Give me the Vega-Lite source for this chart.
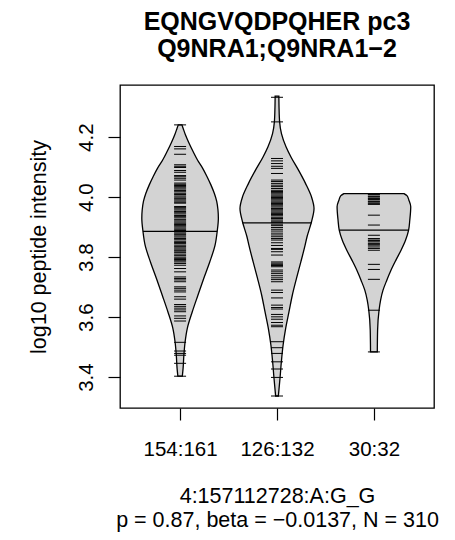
{
  "$schema": "https://vega.github.io/schema/vega-lite/v6.json",
  "width": 314,
  "height": 323,
  "autosize": {"type": "none"},
  "padding": {"left": 120, "top": 85, "right": 21, "bottom": 132},
  "background": "white",
  "title": {
    "text": ["EQNGVQDPQHER pc3\u00a0\u00a0", "\u00a0\u00a0Q9NRA1;Q9NRA1\u22122"],
    "font": "Liberation Sans",
    "fontSize": 25,
    "fontWeight": "bold",
    "color": "black",
    "lineHeight": 27,
    "anchor": "middle",
    "frame": "group",
    "baseline": "bottom",
    "offset": -2
  },
  "datasets": {
    "outline": [
      {"g": "154:161", "v": 4.241, "lo": 0.981, "hi": 1.019},
      {"g": "154:161", "v": 4.230, "lo": 0.969, "hi": 1.031},
      {"g": "154:161", "v": 4.208, "lo": 0.945, "hi": 1.055},
      {"g": "154:161", "v": 4.183, "lo": 0.912, "hi": 1.088},
      {"g": "154:161", "v": 4.152, "lo": 0.866, "hi": 1.134},
      {"g": "154:161", "v": 4.123, "lo": 0.819, "hi": 1.181},
      {"g": "154:161", "v": 4.097, "lo": 0.768, "hi": 1.232},
      {"g": "154:161", "v": 4.070, "lo": 0.724, "hi": 1.276},
      {"g": "154:161", "v": 4.041, "lo": 0.682, "hi": 1.318},
      {"g": "154:161", "v": 4.013, "lo": 0.647, "hi": 1.353},
      {"g": "154:161", "v": 3.986, "lo": 0.622, "hi": 1.378},
      {"g": "154:161", "v": 3.957, "lo": 0.609, "hi": 1.391},
      {"g": "154:161", "v": 3.930, "lo": 0.605, "hi": 1.395},
      {"g": "154:161", "v": 3.886, "lo": 0.617, "hi": 1.383},
      {"g": "154:161", "v": 3.840, "lo": 0.639, "hi": 1.361},
      {"g": "154:161", "v": 3.784, "lo": 0.694, "hi": 1.306},
      {"g": "154:161", "v": 3.729, "lo": 0.756, "hi": 1.244},
      {"g": "154:161", "v": 3.673, "lo": 0.816, "hi": 1.184},
      {"g": "154:161", "v": 3.618, "lo": 0.874, "hi": 1.126},
      {"g": "154:161", "v": 3.562, "lo": 0.926, "hi": 1.074},
      {"g": "154:161", "v": 3.518, "lo": 0.948, "hi": 1.052},
      {"g": "154:161", "v": 3.473, "lo": 0.961, "hi": 1.039},
      {"g": "154:161", "v": 3.429, "lo": 0.969, "hi": 1.031},
      {"g": "154:161", "v": 3.403, "lo": 0.977, "hi": 1.023},
      {"g": "126:132", "v": 4.337, "lo": 1.981, "hi": 2.019},
      {"g": "126:132", "v": 4.300, "lo": 1.979, "hi": 2.021},
      {"g": "126:132", "v": 4.251, "lo": 1.973, "hi": 2.027},
      {"g": "126:132", "v": 4.212, "lo": 1.954, "hi": 2.046},
      {"g": "126:132", "v": 4.168, "lo": 1.907, "hi": 2.093},
      {"g": "126:132", "v": 4.134, "lo": 1.856, "hi": 2.144},
      {"g": "126:132", "v": 4.090, "lo": 1.778, "hi": 2.222},
      {"g": "126:132", "v": 4.046, "lo": 1.706, "hi": 2.294},
      {"g": "126:132", "v": 4.001, "lo": 1.644, "hi": 2.356},
      {"g": "126:132", "v": 3.962, "lo": 1.618, "hi": 2.382},
      {"g": "126:132", "v": 3.918, "lo": 1.644, "hi": 2.356},
      {"g": "126:132", "v": 3.868, "lo": 1.690, "hi": 2.310},
      {"g": "126:132", "v": 3.840, "lo": 1.710, "hi": 2.290},
      {"g": "126:132", "v": 3.784, "lo": 1.754, "hi": 2.246},
      {"g": "126:132", "v": 3.729, "lo": 1.799, "hi": 2.201},
      {"g": "126:132", "v": 3.673, "lo": 1.842, "hi": 2.158},
      {"g": "126:132", "v": 3.618, "lo": 1.876, "hi": 2.124},
      {"g": "126:132", "v": 3.562, "lo": 1.911, "hi": 2.089},
      {"g": "126:132", "v": 3.507, "lo": 1.937, "hi": 2.063},
      {"g": "126:132", "v": 3.451, "lo": 1.955, "hi": 2.045},
      {"g": "126:132", "v": 3.396, "lo": 1.969, "hi": 2.031},
      {"g": "126:132", "v": 3.337, "lo": 1.986, "hi": 2.014},
      {"g": "30:32", "v": 4.012, "lo": 2.690, "hi": 3.310},
      {"g": "30:32", "v": 4.005, "lo": 2.659, "hi": 3.341},
      {"g": "30:32", "v": 3.990, "lo": 2.639, "hi": 3.361},
      {"g": "30:32", "v": 3.968, "lo": 2.620, "hi": 3.380},
      {"g": "30:32", "v": 3.923, "lo": 2.630, "hi": 3.370},
      {"g": "30:32", "v": 3.890, "lo": 2.642, "hi": 3.358},
      {"g": "30:32", "v": 3.857, "lo": 2.673, "hi": 3.327},
      {"g": "30:32", "v": 3.823, "lo": 2.720, "hi": 3.280},
      {"g": "30:32", "v": 3.790, "lo": 2.773, "hi": 3.227},
      {"g": "30:32", "v": 3.757, "lo": 2.823, "hi": 3.177},
      {"g": "30:32", "v": 3.723, "lo": 2.867, "hi": 3.133},
      {"g": "30:32", "v": 3.690, "lo": 2.906, "hi": 3.094},
      {"g": "30:32", "v": 3.657, "lo": 2.931, "hi": 3.069},
      {"g": "30:32", "v": 3.623, "lo": 2.947, "hi": 3.053},
      {"g": "30:32", "v": 3.557, "lo": 2.962, "hi": 3.038},
      {"g": "30:32", "v": 3.484, "lo": 2.965, "hi": 3.035}
    ],
    "means": [
      {"g": "154:161", "v": 3.886, "lo": 0.617, "hi": 1.383},
      {"g": "126:132", "v": 3.914, "lo": 1.642, "hi": 2.358},
      {"g": "30:32", "v": 3.890, "lo": 2.642, "hi": 3.358}
    ],
    "points": [
      {"p": 1, "v": 4.241}, {"p": 1, "v": 4.169}, {"p": 1, "v": 4.161}, {"p": 1, "v": 4.143},
      {"p": 1, "v": 4.108}, {"p": 1, "v": 4.103}, {"p": 1, "v": 4.099}, {"p": 1, "v": 4.089},
      {"p": 1, "v": 4.083}, {"p": 1, "v": 4.072}, {"p": 1, "v": 4.068}, {"p": 1, "v": 4.063},
      {"p": 1, "v": 4.057}, {"p": 1, "v": 4.047}, {"p": 1, "v": 4.043}, {"p": 1, "v": 4.039},
      {"p": 1, "v": 4.035}, {"p": 1, "v": 4.031}, {"p": 1, "v": 4.027}, {"p": 1, "v": 4.022},
      {"p": 1, "v": 4.018}, {"p": 1, "v": 4.013}, {"p": 1, "v": 4.009}, {"p": 1, "v": 4.004},
      {"p": 1, "v": 4.000}, {"p": 1, "v": 3.995}, {"p": 1, "v": 3.991}, {"p": 1, "v": 3.987},
      {"p": 1, "v": 3.983}, {"p": 1, "v": 3.980}, {"p": 1, "v": 3.969}, {"p": 1, "v": 3.965},
      {"p": 1, "v": 3.961}, {"p": 1, "v": 3.957}, {"p": 1, "v": 3.952}, {"p": 1, "v": 3.948},
      {"p": 1, "v": 3.944}, {"p": 1, "v": 3.939}, {"p": 1, "v": 3.935}, {"p": 1, "v": 3.931},
      {"p": 1, "v": 3.926}, {"p": 1, "v": 3.921}, {"p": 1, "v": 3.917}, {"p": 1, "v": 3.913},
      {"p": 1, "v": 3.909}, {"p": 1, "v": 3.905}, {"p": 1, "v": 3.901}, {"p": 1, "v": 3.897},
      {"p": 1, "v": 3.893}, {"p": 1, "v": 3.889}, {"p": 1, "v": 3.884}, {"p": 1, "v": 3.880},
      {"p": 1, "v": 3.876}, {"p": 1, "v": 3.871}, {"p": 1, "v": 3.867}, {"p": 1, "v": 3.862},
      {"p": 1, "v": 3.858}, {"p": 1, "v": 3.853}, {"p": 1, "v": 3.849}, {"p": 1, "v": 3.845},
      {"p": 1, "v": 3.840}, {"p": 1, "v": 3.836}, {"p": 1, "v": 3.831}, {"p": 1, "v": 3.827},
      {"p": 1, "v": 3.823}, {"p": 1, "v": 3.820}, {"p": 1, "v": 3.815}, {"p": 1, "v": 3.810},
      {"p": 1, "v": 3.805}, {"p": 1, "v": 3.800}, {"p": 1, "v": 3.796}, {"p": 1, "v": 3.792},
      {"p": 1, "v": 3.788}, {"p": 1, "v": 3.784}, {"p": 1, "v": 3.779}, {"p": 1, "v": 3.773},
      {"p": 1, "v": 3.762}, {"p": 1, "v": 3.751}, {"p": 1, "v": 3.734}, {"p": 1, "v": 3.729},
      {"p": 1, "v": 3.724}, {"p": 1, "v": 3.718}, {"p": 1, "v": 3.701}, {"p": 1, "v": 3.696},
      {"p": 1, "v": 3.690}, {"p": 1, "v": 3.684}, {"p": 1, "v": 3.668}, {"p": 1, "v": 3.660},
      {"p": 1, "v": 3.642}, {"p": 1, "v": 3.636}, {"p": 1, "v": 3.630}, {"p": 1, "v": 3.624},
      {"p": 1, "v": 3.618}, {"p": 1, "v": 3.604}, {"p": 1, "v": 3.596}, {"p": 1, "v": 3.587},
      {"p": 1, "v": 3.516}, {"p": 1, "v": 3.487}, {"p": 1, "v": 3.479}, {"p": 1, "v": 3.473},
      {"p": 1, "v": 3.446}, {"p": 1, "v": 3.403},
      {"p": 2, "v": 4.333}, {"p": 2, "v": 4.251}, {"p": 2, "v": 4.129}, {"p": 2, "v": 4.121},
      {"p": 2, "v": 4.112}, {"p": 2, "v": 4.103}, {"p": 2, "v": 4.096}, {"p": 2, "v": 4.079},
      {"p": 2, "v": 4.057}, {"p": 2, "v": 4.052}, {"p": 2, "v": 4.046}, {"p": 2, "v": 4.040},
      {"p": 2, "v": 4.035}, {"p": 2, "v": 4.029}, {"p": 2, "v": 4.023}, {"p": 2, "v": 4.019},
      {"p": 2, "v": 4.015}, {"p": 2, "v": 4.011}, {"p": 2, "v": 4.007}, {"p": 2, "v": 4.003},
      {"p": 2, "v": 3.999}, {"p": 2, "v": 3.995}, {"p": 2, "v": 3.991}, {"p": 2, "v": 3.987},
      {"p": 2, "v": 3.983}, {"p": 2, "v": 3.979}, {"p": 2, "v": 3.975}, {"p": 2, "v": 3.971},
      {"p": 2, "v": 3.967}, {"p": 2, "v": 3.962}, {"p": 2, "v": 3.958}, {"p": 2, "v": 3.954},
      {"p": 2, "v": 3.950}, {"p": 2, "v": 3.946}, {"p": 2, "v": 3.942}, {"p": 2, "v": 3.938},
      {"p": 2, "v": 3.933}, {"p": 2, "v": 3.929}, {"p": 2, "v": 3.924}, {"p": 2, "v": 3.920},
      {"p": 2, "v": 3.916}, {"p": 2, "v": 3.910}, {"p": 2, "v": 3.905}, {"p": 2, "v": 3.899},
      {"p": 2, "v": 3.893}, {"p": 2, "v": 3.887}, {"p": 2, "v": 3.880}, {"p": 2, "v": 3.874},
      {"p": 2, "v": 3.868}, {"p": 2, "v": 3.862}, {"p": 2, "v": 3.857}, {"p": 2, "v": 3.848},
      {"p": 2, "v": 3.839}, {"p": 2, "v": 3.829}, {"p": 2, "v": 3.826}, {"p": 2, "v": 3.818},
      {"p": 2, "v": 3.807}, {"p": 2, "v": 3.784}, {"p": 2, "v": 3.780}, {"p": 2, "v": 3.776},
      {"p": 2, "v": 3.772}, {"p": 2, "v": 3.768}, {"p": 2, "v": 3.757}, {"p": 2, "v": 3.751},
      {"p": 2, "v": 3.745}, {"p": 2, "v": 3.738}, {"p": 2, "v": 3.731}, {"p": 2, "v": 3.725},
      {"p": 2, "v": 3.718}, {"p": 2, "v": 3.690}, {"p": 2, "v": 3.682}, {"p": 2, "v": 3.664},
      {"p": 2, "v": 3.640}, {"p": 2, "v": 3.632}, {"p": 2, "v": 3.627}, {"p": 2, "v": 3.609},
      {"p": 2, "v": 3.601}, {"p": 2, "v": 3.593}, {"p": 2, "v": 3.582}, {"p": 2, "v": 3.573},
      {"p": 2, "v": 3.568}, {"p": 2, "v": 3.518}, {"p": 2, "v": 3.498}, {"p": 2, "v": 3.479},
      {"p": 2, "v": 3.451}, {"p": 2, "v": 3.427}, {"p": 2, "v": 3.399}, {"p": 2, "v": 3.337},
      {"p": 3, "v": 4.010}, {"p": 3, "v": 4.008}, {"p": 3, "v": 4.003}, {"p": 3, "v": 4.001},
      {"p": 3, "v": 3.997}, {"p": 3, "v": 3.995}, {"p": 3, "v": 3.992}, {"p": 3, "v": 3.987},
      {"p": 3, "v": 3.985}, {"p": 3, "v": 3.981}, {"p": 3, "v": 3.978}, {"p": 3, "v": 3.976},
      {"p": 3, "v": 3.940}, {"p": 3, "v": 3.907}, {"p": 3, "v": 3.873}, {"p": 3, "v": 3.862},
      {"p": 3, "v": 3.857}, {"p": 3, "v": 3.855}, {"p": 3, "v": 3.851}, {"p": 3, "v": 3.846},
      {"p": 3, "v": 3.843}, {"p": 3, "v": 3.840}, {"p": 3, "v": 3.834}, {"p": 3, "v": 3.829},
      {"p": 3, "v": 3.823}, {"p": 3, "v": 3.776}, {"p": 3, "v": 3.759}, {"p": 3, "v": 3.726},
      {"p": 3, "v": 3.623}, {"p": 3, "v": 3.484}
    ]
  },
  "encoding": {
    "y": {
      "field": "v",
      "type": "quantitative",
      "scale": {"domain": [3.297, 4.374], "nice": false, "zero": false},
      "axis": {
        "values": [3.4, 3.6, 3.8, 4.0, 4.2],
        "format": ".1f",
        "labelAngle": 270,
        "labelAlign": "center",
        "labelBaseline": "alphabetic",
        "labelPadding": 16,
        "labelFlush": false,
        "labelOverlap": false,
        "title": "log10 peptide intensity",
        "titleAngle": 270,
        "titleAlign": "center",
        "titleBaseline": "alphabetic",
        "titleFontSize": 21.5,
        "titleX": -75,
        "titleY": 161.5
      }
    }
  },
  "layer": [
    {
      "data": {"name": "outline"},
      "mark": {"type": "area", "orient": "horizontal", "interpolate": "monotone", "fill": "#D3D3D3", "stroke": "black", "strokeWidth": 1.3, "opacity": 1},
      "encoding": {
        "x": {
          "field": "lo",
          "type": "quantitative",
          "scale": {"domain": [0.38, 3.62], "nice": false, "zero": false},
          "axis": {
            "values": [1, 2, 3],
            "labelExpr": "datum.value == 1 ? '154:161' : datum.value == 2 ? '126:132' : '30:32'",
            "labelBaseline": "alphabetic",
            "labelPadding": 35,
            "labelFlush": false,
            "labelOverlap": false,
            "title": ["4:157112728:A:G_G", "p = 0.87, beta = \u22120.0137, N = 310"],
            "titleBaseline": "alphabetic",
            "titleFontSize": 21.5,
            "titleLineHeight": 24,
            "titleY": 94
          }
        },
        "x2": {"field": "hi"},
        "detail": {"field": "g"}
      }
    },
    {
      "data": {"name": "points"},
      "mark": {"type": "point", "shape": "M-1,0L1,0", "size": 144, "filled": false, "stroke": "black", "strokeWidth": 1, "opacity": 1},
      "encoding": {
        "x": {
          "field": "p",
          "type": "quantitative",
          "scale": {"domain": [0.38, 3.62], "nice": false, "zero": false},
          "axis": {
            "values": [1, 2, 3],
            "labelExpr": "datum.value == 1 ? '154:161' : datum.value == 2 ? '126:132' : '30:32'",
            "labelBaseline": "alphabetic",
            "labelPadding": 35,
            "labelFlush": false,
            "labelOverlap": false,
            "title": ["4:157112728:A:G_G", "p = 0.87, beta = \u22120.0137, N = 310"],
            "titleBaseline": "alphabetic",
            "titleFontSize": 21.5,
            "titleLineHeight": 24,
            "titleY": 94
          }
        }
      }
    },
    {
      "data": {"name": "means"},
      "mark": {"type": "rule", "stroke": "black", "strokeWidth": 1.3},
      "encoding": {
        "x": {
          "field": "lo",
          "type": "quantitative",
          "scale": {"domain": [0.38, 3.62], "nice": false, "zero": false},
          "axis": {
            "values": [1, 2, 3],
            "labelExpr": "datum.value == 1 ? '154:161' : datum.value == 2 ? '126:132' : '30:32'",
            "labelBaseline": "alphabetic",
            "labelPadding": 35,
            "labelFlush": false,
            "labelOverlap": false,
            "title": ["4:157112728:A:G_G", "p = 0.87, beta = \u22120.0137, N = 310"],
            "titleBaseline": "alphabetic",
            "titleFontSize": 21.5,
            "titleLineHeight": 24,
            "titleY": 94
          }
        },
        "x2": {"field": "hi"}
      }
    }
  ],
  "config": {
    "view": {"stroke": "black", "strokeWidth": 1.3},
    "axis": {
      "grid": false,
      "domain": false,
      "ticks": true,
      "tickColor": "black",
      "tickSize": 12,
      "tickWidth": 1.2,
      "labelColor": "black",
      "labelFont": "Liberation Sans",
      "labelFontSize": 20.5,
      "titleFont": "Liberation Sans",
      "titleFontSize": 20.5,
      "titleFontWeight": "normal",
      "titleColor": "black"
    }
  }
}
